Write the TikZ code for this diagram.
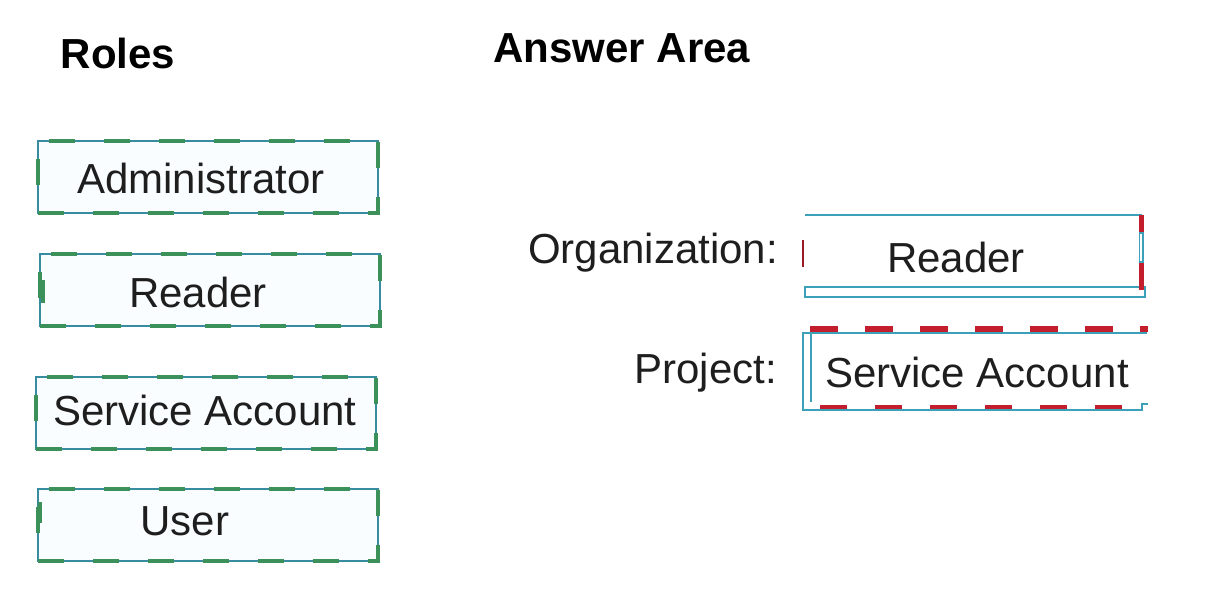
\documentclass[tikz,border=0pt]{standalone}
\usepackage{fontspec}
\setmainfont{Liberation Sans}
\definecolor{tealline}{RGB}{55,140,160}
\definecolor{grn}{RGB}{60,145,90}
\definecolor{cyline}{RGB}{60,160,185}
\definecolor{rdline}{RGB}{195,30,45}
\definecolor{txtcol}{RGB}{30,30,30}
\begin{document}
\begin{tikzpicture}[x=1pt,y=-1pt,
  txt/.style={font=\fontsize{42}{50}\selectfont, text=txtcol, inner sep=0pt},
  ttl/.style={font=\fontsize{42}{50}\selectfont\bfseries, text=black, inner sep=0pt},
  rolebox/.style={draw=tealline, line width=1.6pt, fill=cyan!2, minimum width=340pt,
    minimum height=72pt, inner sep=0pt,
    postaction={draw=grn, line width=4pt, dash pattern=on 26pt off 29pt}},
  grnmark/.style={draw=grn, line width=4pt},
  cyan thin/.style={draw=cyline, line width=1.6pt},
  red dash/.style={draw=rdline, line width=6pt, dash pattern=on 28pt off 27pt}
]
\useasboundingbox[fill=white] (0,0) rectangle (1214,602);

% titles
\node[ttl, anchor=base] (roles) at (118,68) {Roles};
\node[ttl, anchor=base] (answer) at (622,63) {Answer Area};

% role boxes
\node[rolebox] (adminbox) at (208,177) {};
\node[txt, anchor=base] (admin) at (201,193) {Administrator};
\node[rolebox] (readerbox) at (210,290) {};
\node[txt, anchor=base] (reader) at (198,307) {Reader};
\node[rolebox] (sabox) at (206,413) {};
\node[txt, anchor=base] (sa) at (205,425) {Service Account};
\node[rolebox] (userbox) at (208,525) {};
\node[txt, anchor=base] (user) at (185,535) {User};
\draw[grnmark] (43,280) -- (43,303);
\draw[grnmark] (40,502) -- (40,523);

% labels
\node[txt, anchor=base east] (orglbl) at (778,263) {Organization:};
\node[txt, anchor=base east] (projlbl) at (777,383) {Project:};

% organization slot
\draw[cyan thin] (805,215) -- (1142,215);
\draw[cyan thin, fill=white] (805,287) rectangle (1145,297);
\draw[draw=rdline, line width=5pt] (1141,215) -- (1141,290);
\draw[draw=cyline, line width=1.2pt, fill=white] (1139.5,233) rectangle (1143,262);
\draw[draw=rdline!80!black, line width=2.5pt] (803,240) -- (803,267);
\node[txt, anchor=base] (orgval) at (956,272) {Reader};

% project slot
\draw[red dash] (810,329) -- (1148,329);
\draw[red dash, line width=5pt, dash pattern=on 27pt off 28pt] (820,407) -- (1122,407);
\draw[cyan thin] (1147,333) -- (803,333) -- (803,410) -- (1142,410) -- (1142,404) -- (1148,404);
\draw[cyan thin] (811,333) -- (811,402);
\node[txt, anchor=base] (projval) at (977,387) {Service Account};
\end{tikzpicture}
\end{document}
